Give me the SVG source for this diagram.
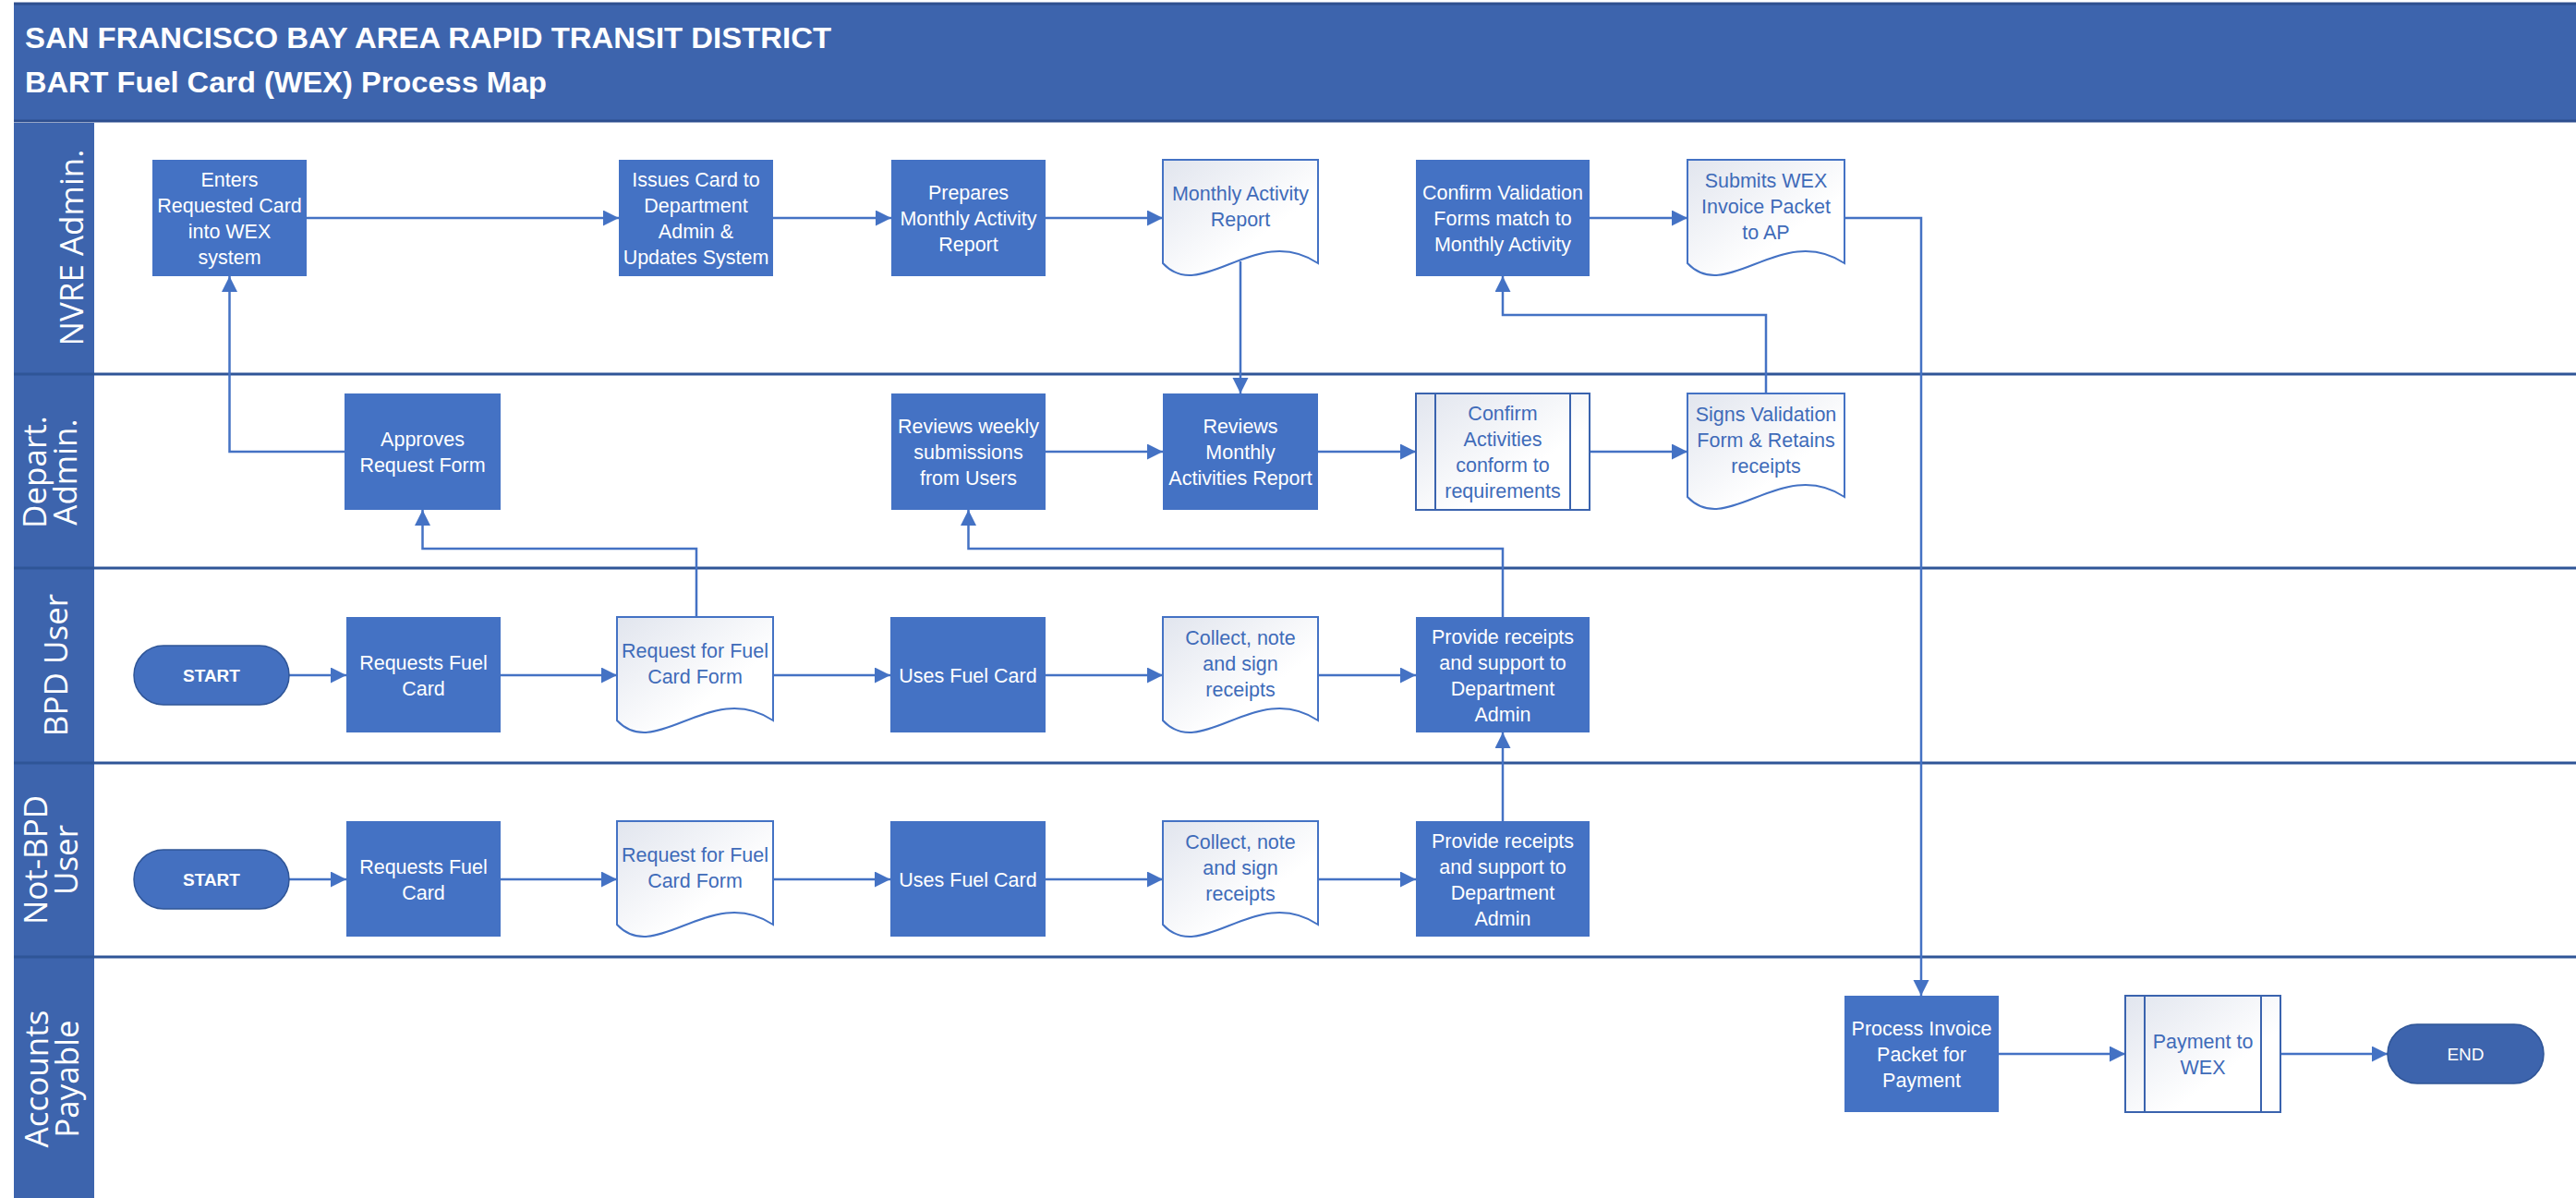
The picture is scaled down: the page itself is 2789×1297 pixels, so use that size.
<svg xmlns="http://www.w3.org/2000/svg" width="2789" height="1297" viewBox="0 0 2789 1297">
<defs>
<linearGradient id="g" x1="0" y1="0" x2="1" y2="1">
<stop offset="0" stop-color="#E1E5EE"/>
<stop offset="0.65" stop-color="#FFFFFF"/>
</linearGradient>
<marker id="ah" markerUnits="userSpaceOnUse" markerWidth="20" markerHeight="20" refX="17" refY="8.5" orient="auto">
<path d="M0,0 L17,8.5 L0,17 Z" fill="#4472C4"/>
</marker>
<style>
.box{fill:#4472C4;}
.doc{fill:url(#g);stroke:#4472C4;stroke-width:2;}
.pre{fill:url(#g);stroke:#3A63AE;stroke-width:2;}
.term{fill:#4470C0;stroke:#2F5597;stroke-width:1.5;}
.wt{fill:#FFFFFF;font-family:"Liberation Sans",Arial,sans-serif;font-size:21.5px;text-anchor:middle;}
.bt{fill:#3F6BB9;font-family:"Liberation Sans",Arial,sans-serif;font-size:21.5px;text-anchor:middle;}
.conn{fill:none;stroke:#4472C4;stroke-width:2.5;}
.arr{marker-end:url(#ah);}
.lane{stroke:#2F5597;stroke-width:3;}
.lbl{fill:#FFFFFF;font-family:"Open Sans",sans-serif;font-size:35px;text-anchor:middle;}
.ttl{fill:#FFFFFF;font-family:"Liberation Sans",Arial,sans-serif;font-weight:bold;font-size:32px;}
</style>
</defs>
<rect width="2789" height="1297" fill="#FFFFFF"/>

<g id="header">
<rect x="15" y="4" width="2774" height="127" fill="#3D64AD"/>
<line x1="15" y1="4" x2="2789" y2="4" stroke="#2E4F8F" stroke-width="3"/>
<line x1="15" y1="131" x2="2789" y2="131" stroke="#2E4F8F" stroke-width="3"/>
<text class="ttl" x="27" y="52" textLength="873" lengthAdjust="spacingAndGlyphs">SAN FRANCISCO BAY AREA RAPID TRANSIT DISTRICT</text>
<text class="ttl" x="27" y="100" textLength="565" lengthAdjust="spacingAndGlyphs">BART Fuel Card (WEX) Process Map</text>
</g>

<g id="lanes">
<rect x="15" y="133" width="87" height="1164" fill="#3D64AD"/>
<line class="lane" x1="15" y1="405" x2="2789" y2="405"/>
<line class="lane" x1="15" y1="615" x2="2789" y2="615"/>
<line class="lane" x1="15" y1="826" x2="2789" y2="826"/>
<line class="lane" x1="15" y1="1036" x2="2789" y2="1036"/>
<text class="lbl" transform="translate(90,268) rotate(-90)">NVRE Admin.</text>
<text class="lbl" transform="translate(50,511) rotate(-90)">Depart.</text>
<text class="lbl" transform="translate(83,511) rotate(-90)">Admin.</text>
<text class="lbl" transform="translate(73,720) rotate(-90)">BPD User</text>
<text class="lbl" transform="translate(51,931) rotate(-90)">Not-BPD</text>
<text class="lbl" transform="translate(84,931) rotate(-90)">User</text>
<text class="lbl" transform="translate(52,1168) rotate(-90)">Accounts</text>
<text class="lbl" transform="translate(85,1168) rotate(-90)">Payable</text>
</g>

<g id="connectors">
<path class="conn arr" d="M332,236 H670"/>
<path class="conn arr" d="M837,236 H965"/>
<path class="conn arr" d="M1132,236 H1259"/>
<path class="conn arr" d="M1721,236 H1827"/>
<path class="conn arr" d="M1343,283 V426"/>
<path class="conn arr" d="M1997,236 H2080 V1078"/>
<path class="conn arr" d="M1912,426 V341 H1627 V299"/>
<path class="conn arr" d="M373,489 H248.5 V299"/>
<path class="conn arr" d="M1132,489 H1259"/>
<path class="conn arr" d="M1427,489 H1533"/>
<path class="conn arr" d="M1721,489 H1827"/>
<path class="conn arr" d="M313,731 H375"/>
<path class="conn arr" d="M542,731 H668"/>
<path class="conn arr" d="M837,731 H964"/>
<path class="conn arr" d="M1132,731 H1259"/>
<path class="conn arr" d="M1427,731 H1533"/>
<path class="conn arr" d="M754,668 V594 H457.5 V552"/>
<path class="conn arr" d="M1627,668 V594 H1048.5 V552"/>
<path class="conn arr" d="M313,952 H375"/>
<path class="conn arr" d="M542,952 H668"/>
<path class="conn arr" d="M837,952 H964"/>
<path class="conn arr" d="M1132,952 H1259"/>
<path class="conn arr" d="M1427,952 H1533"/>
<path class="conn arr" d="M1627,889 V793"/>
<path class="conn arr" d="M2164,1141 H2301"/>
<path class="conn arr" d="M2469,1141 H2585"/>
</g>

<g id="n-enters">
<rect class="box" x="165" y="173" width="167" height="126"/>
<text class="wt" x="248.5" y="201.5">Enters</text>
<text class="wt" x="248.5" y="229.5">Requested Card</text>
<text class="wt" x="248.5" y="257.5">into WEX</text>
<text class="wt" x="248.5" y="285.5">system</text>
</g>
<g id="n-issues">
<rect class="box" x="670" y="173" width="167" height="126"/>
<text class="wt" x="753.5" y="201.5">Issues Card to</text>
<text class="wt" x="753.5" y="229.5">Department</text>
<text class="wt" x="753.5" y="257.5">Admin &amp;</text>
<text class="wt" x="753.5" y="285.5">Updates System</text>
</g>
<g id="n-prepares">
<rect class="box" x="965" y="173" width="167" height="126"/>
<text class="wt" x="1048.5" y="215.5">Prepares</text>
<text class="wt" x="1048.5" y="243.5">Monthly Activity</text>
<text class="wt" x="1048.5" y="271.5">Report</text>
</g>
<g id="n-mar">
<path class="doc" d="M1259,173 h168 v112 C1359.8,240 1301,330 1259,285 Z"/>
<text class="bt" x="1343" y="216.5">Monthly Activity</text>
<text class="bt" x="1343" y="244.5">Report</text>
</g>
<g id="n-confirmval">
<rect class="box" x="1533" y="173" width="188" height="126"/>
<text class="wt" x="1627" y="215.5">Confirm Validation</text>
<text class="wt" x="1627" y="243.5">Forms match to</text>
<text class="wt" x="1627" y="271.5">Monthly Activity</text>
</g>
<g id="n-submits">
<path class="doc" d="M1827,173 h170 v112 C1929,240 1869.5,330 1827,285 Z"/>
<text class="bt" x="1912" y="202.5">Submits WEX</text>
<text class="bt" x="1912" y="230.5">Invoice Packet</text>
<text class="bt" x="1912" y="258.5">to AP</text>
</g>

<g id="n-approves">
<rect class="box" x="373" y="426" width="169" height="126"/>
<text class="wt" x="457.5" y="482.5">Approves</text>
<text class="wt" x="457.5" y="510.5">Request Form</text>
</g>
<g id="n-reviewsweekly">
<rect class="box" x="965" y="426" width="167" height="126"/>
<text class="wt" x="1048.5" y="468.5">Reviews weekly</text>
<text class="wt" x="1048.5" y="496.5">submissions</text>
<text class="wt" x="1048.5" y="524.5">from Users</text>
</g>
<g id="n-reviewsmonthly">
<rect class="box" x="1259" y="426" width="168" height="126"/>
<text class="wt" x="1343" y="468.5">Reviews</text>
<text class="wt" x="1343" y="496.5">Monthly</text>
<text class="wt" x="1343" y="524.5">Activities Report</text>
</g>
<g id="n-confirmact">
<rect class="pre" x="1533" y="426" width="188" height="126"/>
<line class="pre" x1="1554" y1="426" x2="1554" y2="552"/>
<line class="pre" x1="1700" y1="426" x2="1700" y2="552"/>
<text class="bt" x="1627" y="454.5">Confirm</text>
<text class="bt" x="1627" y="482.5">Activities</text>
<text class="bt" x="1627" y="510.5">conform to</text>
<text class="bt" x="1627" y="538.5">requirements</text>
</g>
<g id="n-signs">
<path class="doc" d="M1827,426 h170 v112 C1929,493 1869.5,583 1827,538 Z"/>
<text class="bt" x="1912" y="455.5">Signs Validation</text>
<text class="bt" x="1912" y="483.5">Form &amp; Retains</text>
<text class="bt" x="1912" y="511.5">receipts</text>
</g>

<g id="n-start1">
<rect class="term" x="145" y="699" width="168" height="64" rx="32"/>
<text class="wt" x="229" y="738" style="font-weight:bold;font-size:19px">START</text>
</g>
<g id="n-requests1">
<rect class="box" x="375" y="668" width="167" height="125"/>
<text class="wt" x="458.5" y="724.5">Requests Fuel</text>
<text class="wt" x="458.5" y="752.5">Card</text>
</g>
<g id="n-form1">
<path class="doc" d="M668,668 h169 v112 C769.4,735 710.3,825 668,780 Z"/>
<text class="bt" x="752.5" y="711.5">Request for Fuel</text>
<text class="bt" x="752.5" y="739.5">Card Form</text>
</g>
<g id="n-uses1">
<rect class="box" x="964" y="668" width="168" height="125"/>
<text class="wt" x="1048" y="738.5">Uses Fuel Card</text>
</g>
<g id="n-collect1">
<path class="doc" d="M1259,668 h168 v112 C1359.8,735 1301,825 1259,780 Z"/>
<text class="bt" x="1343" y="697.5">Collect, note</text>
<text class="bt" x="1343" y="725.5">and sign</text>
<text class="bt" x="1343" y="753.5">receipts</text>
</g>
<g id="n-provide1">
<rect class="box" x="1533" y="668" width="188" height="125"/>
<text class="wt" x="1627" y="696.5">Provide receipts</text>
<text class="wt" x="1627" y="724.5">and support to</text>
<text class="wt" x="1627" y="752.5">Department</text>
<text class="wt" x="1627" y="780.5">Admin</text>
</g>

<g id="n-start2">
<rect class="term" x="145" y="920" width="168" height="64" rx="32"/>
<text class="wt" x="229" y="959" style="font-weight:bold;font-size:19px">START</text>
</g>
<g id="n-requests2">
<rect class="box" x="375" y="889" width="167" height="125"/>
<text class="wt" x="458.5" y="945.5">Requests Fuel</text>
<text class="wt" x="458.5" y="973.5">Card</text>
</g>
<g id="n-form2">
<path class="doc" d="M668,889 h169 v112 C769.4,956 710.3,1046 668,1001 Z"/>
<text class="bt" x="752.5" y="932.5">Request for Fuel</text>
<text class="bt" x="752.5" y="960.5">Card Form</text>
</g>
<g id="n-uses2">
<rect class="box" x="964" y="889" width="168" height="125"/>
<text class="wt" x="1048" y="959.5">Uses Fuel Card</text>
</g>
<g id="n-collect2">
<path class="doc" d="M1259,889 h168 v112 C1359.8,956 1301,1046 1259,1001 Z"/>
<text class="bt" x="1343" y="918.5">Collect, note</text>
<text class="bt" x="1343" y="946.5">and sign</text>
<text class="bt" x="1343" y="974.5">receipts</text>
</g>
<g id="n-provide2">
<rect class="box" x="1533" y="889" width="188" height="125"/>
<text class="wt" x="1627" y="917.5">Provide receipts</text>
<text class="wt" x="1627" y="945.5">and support to</text>
<text class="wt" x="1627" y="973.5">Department</text>
<text class="wt" x="1627" y="1001.5">Admin</text>
</g>

<g id="n-processinvoice">
<rect class="box" x="1997" y="1078" width="167" height="126"/>
<text class="wt" x="2080.5" y="1120.5">Process Invoice</text>
<text class="wt" x="2080.5" y="1148.5">Packet for</text>
<text class="wt" x="2080.5" y="1176.5">Payment</text>
</g>
<g id="n-payment">
<rect class="pre" x="2301" y="1078" width="168" height="126"/>
<line class="pre" x1="2322" y1="1078" x2="2322" y2="1204"/>
<line class="pre" x1="2448" y1="1078" x2="2448" y2="1204"/>
<text class="bt" x="2385" y="1134.5">Payment to</text>
<text class="bt" x="2385" y="1162.5">WEX</text>
</g>
<g id="n-end">
<rect class="term" x="2585" y="1109" width="169" height="64" rx="32" style="fill:#3D64AD"/>
<text class="wt" x="2669.5" y="1148" style="font-size:19px">END</text>
</g>
</svg>
